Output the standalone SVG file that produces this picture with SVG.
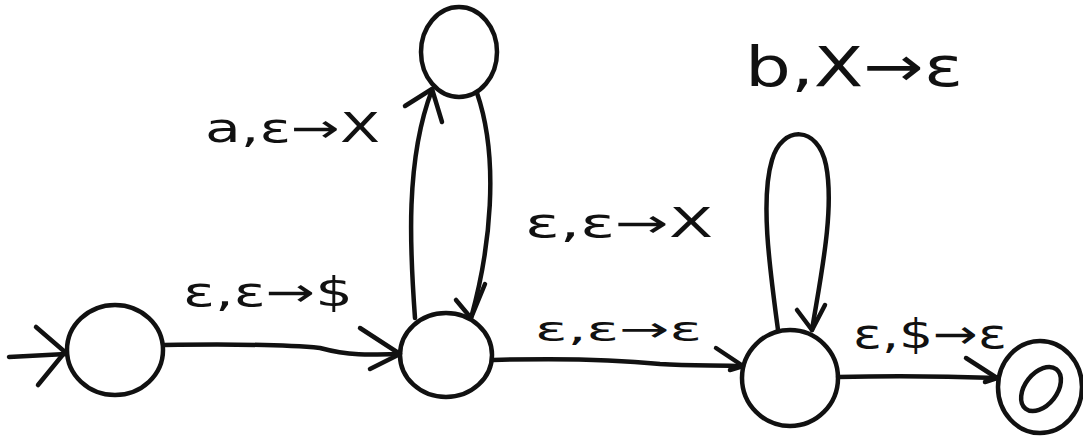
<svg xmlns="http://www.w3.org/2000/svg" width="1083" height="439" viewBox="0 0 1083 439">
<style>
.s{fill:none;stroke:#111;stroke-width:4.5;stroke-linecap:round;stroke-linejoin:round}
.t{font-family:"DejaVu Sans",sans-serif;fill:#111}
</style>
<rect width="1083" height="439" fill="#fff"/>
<g id="q0"><ellipse class="s" cx="115" cy="350" rx="48" ry="45"/></g>
<g id="q1"><ellipse class="s" cx="446" cy="355" rx="46" ry="42"/></g>
<g id="qtop"><ellipse class="s" cx="459" cy="52" rx="38" ry="45"/></g>
<g id="q2"><ellipse class="s" cx="790" cy="378" rx="48" ry="48"/></g>
<g id="q3"><ellipse class="s" cx="1040" cy="387" rx="42" ry="46"/><ellipse class="s" cx="1041" cy="389" rx="16" ry="25" transform="rotate(38 1041 389)"/></g>
<g id="connectors">
<path class="s" d="M9 357 L66 354"/><path class="s" d="M36 327 L65 352 L38 385"/>
<path class="s" d="M164 345 C230 344 280 344 320 348 C350 356 370 355 400 354"/><path class="s" d="M360 328 L400 354 L370 369"/>
<path class="s" d="M415 318 C410 250 405 160 432 90"/><path class="s" d="M405 106 L432 89 L442 122"/>
<path class="s" d="M477 93 C500 160 490 250 471 318"/><path class="s" d="M456 300 L471 318 L485 284"/>
<path class="s" d="M493 360 C560 358 620 360 660 364 C690 366 715 365 743 366"/><path class="s" d="M716 348 L743 366 L730 370"/>
<path class="s" d="M778 330 C770 270 760 200 772 160 C782 125 818 125 826 165 C835 210 820 280 812 330"/><path class="s" d="M797 310 L812 330 L825 305"/>
<path class="s" d="M838 377 C880 376 940 376 997 378"/><path class="s" d="M966 358 L997 378 L985 382"/>
</g>
<g id="labels">
<text class="t" x="205" y="142" font-size="40" textLength="175" lengthAdjust="spacingAndGlyphs">a,ε→X</text>
<text class="t" x="525" y="237" font-size="40" textLength="188" lengthAdjust="spacingAndGlyphs">ε,ε→X</text>
<text class="t" x="745" y="86" font-size="56" textLength="218" lengthAdjust="spacingAndGlyphs">b,X→ε</text>
<text class="t" x="183" y="306" font-size="40" textLength="170" lengthAdjust="spacingAndGlyphs">ε,ε→$</text>
<text class="t" x="535" y="341" font-size="34" textLength="167" lengthAdjust="spacingAndGlyphs">ε,ε→ε</text>
<text class="t" x="853" y="348" font-size="40" textLength="154" lengthAdjust="spacingAndGlyphs">ε,$→ε</text>
</g>
</svg>
